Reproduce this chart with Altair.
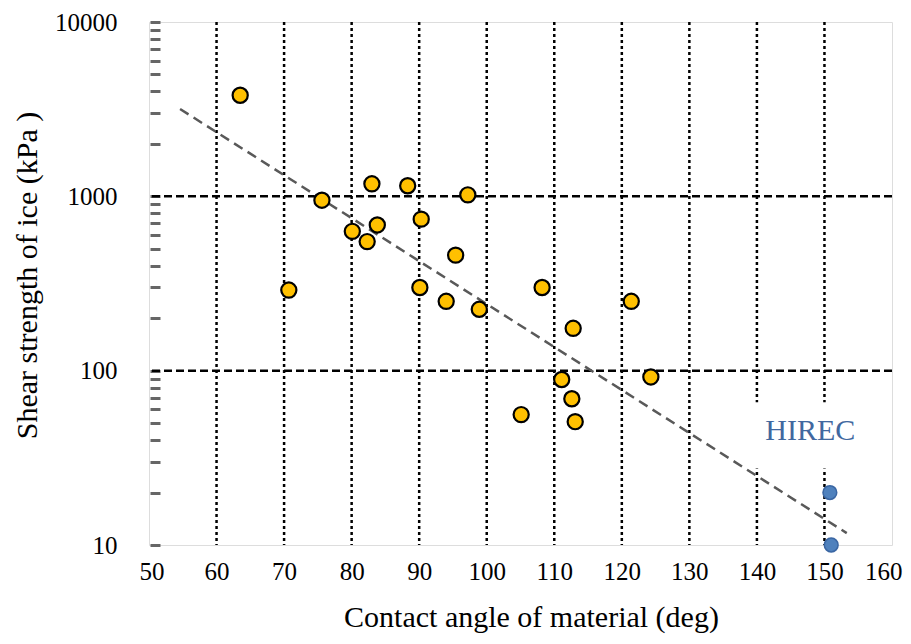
import altair as alt
import pandas as pd

# Data
angle = [63.5, 75.6, 70.7, 83.0, 88.3, 97.2, 80.1, 82.3, 83.8, 90.3, 95.4,
         90.1, 94.0, 98.9, 108.2, 121.4, 112.8, 111.1, 124.3, 112.6, 113.1, 105.1]
shear = [3800, 950, 290, 1180, 1150, 1020, 630, 550, 685, 740, 460,
         300, 250, 225, 300, 250, 175, 89, 92, 69, 51, 56]

hirec_angle = [150.8, 151.0]
hirec_shear = [20, 10]

trend_angle = [54.6, 153.3]
trend_shear = [3170, 11.7]

x_grid = [60, 70, 80, 90, 100, 110, 120, 130, 140, 150]
y_grid = [100, 1000]
x_ticks = [50, 60, 70, 80, 90, 100, 110, 120, 130, 140, 150, 160]
y_ticks = [k * 10 ** e for e in (1, 2, 3) for k in range(1, 10)] + [10000]

label_text = ["HIREC"]
label_angle = [147.9]
label_shear = [45]
box_angle = [136]
box_angle2 = [158]
box_shear = [27.5]
box_shear2 = [66]

FONT = "Liberation Serif"

xscale = alt.Scale(domain=[50, 160], nice=False, zero=False)
yscale = alt.Scale(type="log", domain=[10, 10000], nice=False)

xaxis = alt.Axis(values=x_ticks, title="Contact angle of material (deg)",
                 ticks=False, domain=False, grid=False, labelPadding=14,
                 labelFontSize=25, titleFontSize=30, titlePadding=18, titleX=382,
                 labelFont=FONT, titleFont=FONT, titleFontWeight="normal",
                 labelColor="black", titleColor="black",
                 labelFlush=True, labelFlushOffset=10)
yaxis = alt.Axis(values=y_ticks, title="Shear strength of ice (kPa )",
                 labelExpr="indexof([10,100,1000,10000], datum.value) >= 0 ? datum.value : ''",
                 offset=-11, tickSize=10, tickWidth=3, tickColor="#666666",
                 domain=False, grid=False, labelPadding=33,
                 labelFontSize=25, titleFontSize=30, titlePadding=12, titleY=253,
                 labelFont=FONT, titleFont=FONT, titleFontWeight="normal",
                 labelColor="black", titleColor="black", labelFlush=False)

def X(field):
    return alt.X(f"{field}:Q", scale=xscale, axis=xaxis)

def Y(field):
    return alt.Y(f"{field}:Q", scale=yscale, axis=yaxis)

pts = pd.DataFrame({"x": angle, "y": shear})
hir = pd.DataFrame({"x": hirec_angle, "y": hirec_shear})
trd = pd.DataFrame({"x": trend_angle, "y": trend_shear})
vg = pd.DataFrame({"x": x_grid})
hg = pd.DataFrame({"y": y_grid})
lab = pd.DataFrame({"x": label_angle, "y": label_shear, "t": label_text})
box = pd.DataFrame({"x": box_angle, "x2": box_angle2, "y": box_shear, "y2": box_shear2})

vgrid = alt.Chart(vg).mark_rule(color="black", strokeWidth=2.5, strokeDash=[3, 3]).encode(x=X("x"))
hgrid = alt.Chart(hg).mark_rule(color="black", strokeWidth=2.5, strokeDash=[8, 4]).encode(y=Y("y"))
whitebox = alt.Chart(box).mark_rect(color="white").encode(
    x=X("x"), x2="x2", y=Y("y"), y2="y2")
trend = alt.Chart(trd).mark_line(color="#595959", strokeWidth=2.5, strokeDash=[10, 6]).encode(
    x=X("x"), y=Y("y"))
points = alt.Chart(pts).mark_point(filled=True, fill="#FFC000", stroke="black",
                                   strokeWidth=2.2, size=230, opacity=1, shape="circle").encode(
    x=X("x"), y=Y("y"))
hpoints = alt.Chart(hir).mark_point(filled=True, fill="#4F81BD", stroke="#3A66A3",
                                    strokeWidth=1.5, size=190, opacity=1, shape="circle").encode(
    x=X("x"), y=Y("y"))
label = alt.Chart(lab).mark_text(font=FONT, fontSize=30, color="#41689F",
                                 align="center", baseline="middle").encode(
    x=X("x"), y=Y("y"), text="t:N")

chart = alt.layer(vgrid, hgrid, whitebox, trend, points, hpoints, label).properties(
    width=743, height=523,
    autosize=alt.AutoSizeParams(type="none"),
    padding={"left": 141, "top": 14, "right": 11, "bottom": 91},
).configure_view(stroke="black", strokeWidth=3).configure(background="white")

chart.save("out.html", embed_options={"renderer": "svg", "actions": False})
